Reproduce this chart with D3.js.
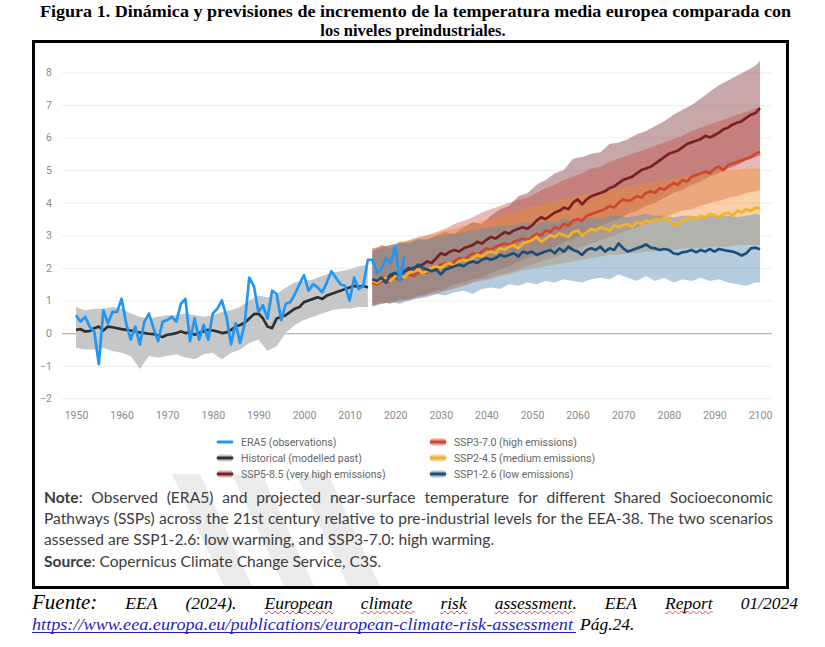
<!DOCTYPE html>
<html>
<head>
<meta charset="utf-8">
<script src="https://cdn.jsdelivr.net/npm/d3@7"></script>
<style>
  body { margin: 0; background: #fff; }
  svg { display: block; }
</style>
</head>
<body>
<div id="main"></div>
<script>
"use strict";

// ---- data ----
const era5Years = d3.range(1950, 2023);
const era5Values = [
  0.55, 0.35, 0.5, 0.2, 0.05, -0.95, 0.7, 0.3, 0.65, 0.65,
  1.05, 0.3, -0.2, 0.2, -0.35, 0.35, 0.6, 0.15, -0.25, 0.35,
  0.4, 0.5, 0.35, 0.9, 1.05, -0.25, 0.45, -0.2, 0.25, -0.2,
  0.6, 0.75, 1.0, 0.5, -0.35, 0.3, -0.3, 0.3, 1.7, 1.45,
  0.65, 0.85, 0.45, 1.3, 1.2, 0.4, 0.9, 0.95, 1.2, 1.5,
  1.78, 1.3, 1.5, 1.4, 1.25, 1.55, 1.9, 1.7, 1.5, 1.45,
  1.0, 1.7, 1.35, 1.45, 2.25, 2.25, 1.85, 1.95, 2.3, 2.15,
  2.65, 1.6, 2.35
];

const histYears = d3.range(1950, 2015);
const histValues = [
  0.1, 0.12, 0.05, 0.06, 0.15, 0.2, 0.08, 0.2, 0.18, 0.15,
  0.12, 0.1, 0.08, 0.05, 0.02, 0.0, -0.02, -0.03, -0.08, -0.12,
  -0.05, -0.03, 0.0, 0.05, 0.0, 0.02, -0.05, 0.0, 0.05, 0.1,
  0.08, 0.05, 0.0, 0.02, 0.1, 0.2, 0.25, 0.32, 0.45, 0.58,
  0.6, 0.45, 0.2, 0.15, 0.45, 0.5, 0.55, 0.65, 0.75, 0.8,
  0.95, 1.0, 1.05, 1.1, 1.05, 1.15, 1.2, 1.25, 1.3, 1.35,
  1.4, 1.45, 1.42, 1.45, 1.4
];
const histBandYears = d3.range(1950, 2015, 2);
const histBandHigh = [
  0.8, 0.7, 0.75, 0.75, 0.8, 0.75, 0.6, 0.5, 0.45, 0.5,
  0.55, 0.55, 0.6, 0.55, 0.5, 0.55, 0.65, 0.7, 0.8, 1.0,
  1.15, 1.1, 1.2, 1.4, 1.55, 1.6, 1.65, 1.75, 1.85, 1.9,
  1.95, 2.05, 2.1
];
const histBandLow = [
  -0.45, -0.5, -0.5, -0.45, -0.55, -0.6, -0.7, -1.1, -0.7, -0.75,
  -0.7, -0.65, -0.75, -0.8, -0.65, -0.6, -0.8, -0.6, -0.5, -0.3,
  -0.2, -0.55, -0.4, 0.0, 0.25, 0.4, 0.5, 0.6, 0.7, 0.75,
  0.75, 0.8, 0.8
];

const scenYears = d3.range(2015, 2101);
const ssp585Values = [
  1.6, 1.55, 1.65, 1.7, 1.75, 1.8, 1.75, 1.9, 1.95, 2.0,
  2.05, 2.1, 2.2, 2.15, 2.3, 2.45, 2.4, 2.5, 2.55, 2.5,
  2.6, 2.65, 2.7, 2.8, 2.75, 2.86, 2.95, 2.9, 3.0, 3.1,
  3.05, 3.15, 3.2, 3.25, 3.2, 3.3, 3.45, 3.55, 3.5, 3.6,
  3.7, 3.75, 3.85, 3.8, 4.0, 4.1, 3.95, 4.1, 4.2, 4.25,
  4.3, 4.35, 4.45, 4.5, 4.6, 4.7, 4.75, 4.8, 4.9, 5.0,
  5.05, 5.1, 5.2, 5.3, 5.4, 5.5, 5.55, 5.6, 5.7, 5.8,
  5.85, 5.9, 5.95, 6.05, 6.0, 6.07, 6.15, 6.25, 6.3, 6.4,
  6.45, 6.5, 6.6, 6.7, 6.75, 6.9
];
const ssp370Values = [
  1.55, 1.5, 1.6, 1.55, 1.65, 1.7, 1.6, 1.75, 1.8, 1.75,
  1.85, 1.9, 1.85, 2.0, 1.95, 2.1, 2.15, 2.05, 2.2, 2.3,
  2.25, 2.35, 2.45, 2.4, 2.5, 2.6, 2.55, 2.65, 2.7, 2.75,
  2.7, 2.8, 2.85, 2.9, 2.85, 2.95, 3.05, 3.0, 3.15, 3.1,
  3.25, 3.2, 3.35, 3.3, 3.45, 3.5, 3.45, 3.6, 3.65, 3.7,
  3.75, 3.8, 3.9, 3.85, 4.0, 4.1, 4.05, 4.1, 4.2, 4.15,
  4.3, 4.35, 4.3, 4.45, 4.4, 4.5, 4.6, 4.55, 4.7, 4.65,
  4.8, 4.85, 4.9, 4.95, 4.9, 5.05, 5.1, 5.0, 5.15, 5.2,
  5.25, 5.3, 5.35, 5.4, 5.5, 5.56
];
const ssp245Values = [
  1.6, 1.55, 1.65, 1.7, 1.6, 1.75, 1.8, 1.7, 1.85, 1.9,
  1.95, 1.85, 1.9, 2.0, 2.05, 2.0, 2.1, 2.15, 2.05, 2.2,
  2.25, 2.2, 2.3, 2.4, 2.35, 2.45, 2.5, 2.45, 2.6, 2.55,
  2.65, 2.7, 2.6, 2.75, 2.8, 2.85, 2.95, 2.8, 2.9, 3.0,
  2.95, 3.05, 3.0, 2.95, 3.1, 3.15, 3.0, 3.1, 3.2, 3.15,
  3.25, 3.2, 3.15, 3.3, 3.25, 3.3, 3.35, 3.25, 3.4, 3.35,
  3.45, 3.4, 3.5, 3.45, 3.55, 3.5, 3.3, 3.35, 3.45, 3.5,
  3.55, 3.5, 3.6, 3.55, 3.65, 3.62, 3.55, 3.65, 3.7, 3.6,
  3.75, 3.7, 3.8, 3.75, 3.85, 3.83
];
const ssp126Values = [
  1.65, 1.6, 1.7, 1.55, 1.8, 1.85, 1.75, 1.9, 2.0, 1.95,
  2.1, 2.0, 1.95, 1.9, 1.95, 1.8, 1.95, 2.0, 2.05, 2.1,
  2.05, 2.15, 2.2, 2.15, 2.25, 2.3, 2.25, 2.3, 2.4, 2.35,
  2.4, 2.45, 2.35, 2.5, 2.45, 2.5, 2.4, 2.45, 2.5, 2.55,
  2.45, 2.6, 2.5, 2.65, 2.55, 2.5, 2.4, 2.55, 2.6, 2.55,
  2.65, 2.5, 2.6, 2.55, 2.75, 2.6, 2.5, 2.55, 2.6, 2.65,
  2.72, 2.62, 2.6, 2.55, 2.58, 2.55, 2.45, 2.42, 2.48, 2.5,
  2.55, 2.48, 2.55, 2.5, 2.58, 2.5, 2.58, 2.55, 2.52, 2.5,
  2.45, 2.38, 2.45, 2.6, 2.62, 2.57
];

const bandYears = d3.range(2015, 2100, 2).concat([2100]);
const ssp585High = [
  2.5, 2.7, 2.6, 2.8, 2.75, 2.9, 2.85, 3.0, 3.1, 3.05,
  3.25, 3.4, 3.35, 3.6, 3.8, 3.9, 4.2, 4.3, 4.55, 4.7,
  4.9, 5.0, 5.35, 5.4, 5.5, 5.55, 5.8, 5.85, 5.95, 6.1,
  6.2, 6.35, 6.5, 6.7, 6.85, 7.0, 7.2, 7.4, 7.6, 7.75,
  7.9, 8.05, 8.2, 8.35
];
const ssp585Low = [
  0.85, 0.95, 0.9, 1.05, 1.0, 1.15, 1.2, 1.3, 1.35, 1.5,
  1.55, 1.65, 1.7, 1.85, 1.95, 2.05, 2.2, 2.3, 2.4, 2.55,
  2.65, 2.8, 2.9, 3.05, 3.15, 3.3, 3.4, 3.5, 3.65, 3.75,
  3.9, 4.0, 4.15, 4.3, 4.4, 4.55, 4.65, 4.8, 4.9, 5.05,
  5.15, 5.3, 5.4, 5.45
];
const ssp370High = [
  2.6, 2.65, 2.7, 2.75, 2.85, 2.95, 3.0, 3.1, 3.2, 3.35,
  3.45, 3.55, 3.7, 3.8, 3.9, 4.0, 4.1, 4.15, 4.3, 4.45,
  4.55, 4.7, 4.8, 4.9, 5.05, 5.1, 5.25, 5.35, 5.45, 5.55,
  5.65, 5.75, 5.85, 5.95, 6.05, 6.2, 6.3, 6.4, 6.5, 6.6,
  6.7, 6.8, 6.9, 6.95
];
const ssp370Low = [
  0.85, 0.9, 0.95, 0.95, 1.05, 1.1, 1.15, 1.2, 1.3, 1.35,
  1.45, 1.55, 1.65, 1.7, 1.8, 1.85, 1.95, 2.05, 2.15, 2.25,
  2.3, 2.45, 2.55, 2.65, 2.75, 2.85, 2.95, 3.05, 3.15, 3.25,
  3.35, 3.45, 3.55, 3.65, 3.75, 3.8, 3.9, 4.0, 4.05, 4.15,
  4.2, 4.3, 4.35, 4.4
];
const ssp245High = [
  2.6, 2.65, 2.7, 2.8, 2.85, 2.9, 3.0, 3.05, 3.15, 3.2,
  3.3, 3.35, 3.45, 3.5, 3.6, 3.7, 3.75, 3.85, 3.9, 4.0,
  4.05, 4.1, 4.2, 4.25, 4.3, 4.35, 4.4, 4.45, 4.5, 4.55,
  4.6, 4.65, 4.7, 4.75, 4.8, 4.85, 4.9, 4.9, 4.95, 5.0,
  5.0, 5.05, 5.05, 5.05
];
const ssp245Low = [
  0.85, 0.9, 0.95, 1.0, 1.05, 1.1, 1.2, 1.25, 1.3, 1.4,
  1.45, 1.55, 1.6, 1.65, 1.75, 1.8, 1.9, 1.95, 2.0, 2.05,
  2.1, 2.15, 2.2, 2.25, 2.3, 2.35, 2.4, 2.4, 2.45, 2.45,
  2.5, 2.5, 2.55, 2.55, 2.6, 2.6, 2.6, 2.65, 2.65, 2.65,
  2.7, 2.7, 2.7, 2.7
];
const ssp126High = [
  2.55, 2.6, 2.7, 2.75, 2.8, 2.85, 2.9, 2.95, 3.0, 3.05,
  3.1, 3.15, 3.2, 3.25, 3.3, 3.3, 3.35, 3.4, 3.35, 3.45,
  3.4, 3.5, 3.45, 3.5, 3.55, 3.5, 3.6, 3.6, 3.55, 3.6,
  3.65, 3.6, 3.6, 3.55, 3.6, 3.6, 3.55, 3.6, 3.6, 3.6,
  3.55, 3.6, 3.65, 3.62
];
const ssp126Low = [
  0.8, 0.9, 0.95, 0.9, 1.0, 1.05, 1.1, 1.2, 1.15, 1.25,
  1.3, 1.2, 1.35, 1.4, 1.35, 1.5, 1.45, 1.55, 1.5, 1.6,
  1.55, 1.65, 1.6, 1.55, 1.65, 1.7, 1.65, 1.8, 1.7, 1.6,
  1.75, 1.6, 1.7, 1.55, 1.65, 1.6, 1.7, 1.6, 1.65, 1.55,
  1.5, 1.45, 1.55, 1.55
];

const yTicks = [-2, -1, 0, 1, 2, 3, 4, 5, 6, 7, 8];
const xTicks = d3.range(1950, 2101, 10);

const legendLabels = [
  "ERA5 (observations)", "Historical (modelled past)", "SSP5-8.5 (very high emissions)",
  "SSP3-7.0 (high emissions)", "SSP2-4.5 (medium emissions)", "SSP1-2.6 (low emissions)"
];
const legendColors = ["#2196f3", "#2f2f2f", "#7a1f22", "#d2452e", "#f4b323", "#1d4e7a"];
const legendBands = [null, "#c6c7c9", "#d2b0b2", "#e2a39c", "#f8d3a6", "#aac4d8"];

// ---- page ----
function initialiseWebpage() {
  const main = document.getElementById("main");
  return d3.select(main).append("svg").attr("width", 825).attr("height", 647);
}

function zip(xs, ys) { return xs.map((t, i) => ({ t, v: ys[i] })); }
function zipBand(xs, lo, hi) { return xs.map((t, i) => ({ t, lo: lo[i], hi: hi[i] })); }

// place words spread evenly between x0 and x1 (justified text)
function justify(g, words, x0, x1, baseline) {
  const nodes = words.map(w => {
    const t = g.append("text").attr("y", baseline);
    w.parts.forEach(p => {
      const s = t.append("tspan").text(p.text);
      if (p.style) Object.entries(p.style).forEach(([k, v]) => s.style(k, v));
    });
    if (w.style) Object.entries(w.style).forEach(([k, v]) => t.style(k, v));
    return t;
  });
  const widths = nodes.map(n => n.node().getComputedTextLength());
  const gap = (x1 - x0 - d3.sum(widths)) / (nodes.length - 1);
  let x = x0;
  const pos = [];
  nodes.forEach((n, i) => { n.attr("x", x); pos.push([x, widths[i]]); x += widths[i] + gap; });
  return pos;
}

function draw(svg) {
  // title
  const title = svg.append("g")
    .style("font-family", "'Liberation Serif', 'Times New Roman', serif")
    .style("font-weight", "bold").style("font-size", "16.5px").attr("fill", "#000");
  title.append("text").attr("x", 40).attr("y", 16.5)
    .attr("textLength", 751).attr("lengthAdjust", "spacingAndGlyphs")
    .text("Figura 1. Dinámica y previsiones de incremento de la temperatura media europea comparada con");
  title.append("text").attr("x", 413).attr("y", 36).attr("text-anchor", "middle")
    .text("los niveles preindustriales.");

  // faint watermark stripes behind the note
  const wm = svg.append("g").attr("fill", "#ebebeb");
  [[172, 200], [232, 262], [296, 328]].forEach(([a, b]) => {
    wm.append("path").attr("d", `M${a},474L${b},474L${b + 52},586L${a + 52},586Z`);
  });

  const x = d3.scaleLinear().domain([1950, 2100]).range([76, 760]);
  const y = d3.scaleLinear().domain([-2, 8]).range([398.3, 72.3]);

  // grid + y labels
  const yAxis = svg.append("g").attr("transform", "translate(62,0)")
    .call(d3.axisLeft(y).tickValues(yTicks).tickSize(-710).tickPadding(10).tickFormat(d3.format("d")));
  yAxis.select(".domain").remove();
  yAxis.selectAll(".tick line").attr("stroke", d => d === 0 ? "#b4b4b4" : "#ededed")
    .attr("stroke-width", d => d === 0 ? 1.4 : 1);
  yAxis.selectAll(".tick text").attr("fill", "#8a8a8a")
    .style("font-family", "Roboto, sans-serif").style("font-size", "10.5px");

  const xAxis = svg.append("g").attr("transform", "translate(0,398.3)")
    .call(d3.axisBottom(x).tickValues(xTicks).tickSize(0).tickPadding(13).tickFormat(d3.format("d")));
  xAxis.select(".domain").remove();
  xAxis.selectAll(".tick text").attr("fill", "#8a8a8a")
    .style("font-family", "Roboto, sans-serif").style("font-size", "10.5px");

  const area = d3.area().x(d => x(d.t)).y0(d => y(d.lo)).y1(d => y(d.hi));
  const line = d3.line().x(d => x(d.t)).y(d => y(d.v));

  // historical band
  svg.append("path").datum(zipBand(histBandYears, histBandLow, histBandHigh))
    .attr("d", area).attr("fill", "#c6c7c9");

  // scenario bands
  const bands = [
    [ssp585Low, ssp585High, "#915057", 0.5],
    [ssp370Low, ssp370High, "#c0392b", 0.35],
    [ssp245Low, ssp245High, "#f0902e", 0.42],
    [ssp126Low, ssp126High, "#5b8db5", 0.45]
  ];
  bands.forEach(([lo, hi, c, o]) => {
    svg.append("path").datum(zipBand(bandYears, lo, hi))
      .attr("d", area).attr("fill", c).attr("fill-opacity", o);
  });

  const lines = [
    [histYears, histValues, legendColors[1]],
    [scenYears, ssp585Values, legendColors[2]],
    [scenYears, ssp370Values, legendColors[3]],
    [scenYears, ssp245Values, legendColors[4]],
    [scenYears, ssp126Values, legendColors[5]],
    [era5Years, era5Values, legendColors[0]]
  ];
  lines.forEach(([xs, vs, c]) => {
    svg.append("path").datum(zip(xs, vs)).attr("d", line)
      .attr("fill", "none").attr("stroke", c).attr("stroke-width", 2.7)
      .attr("stroke-linejoin", "round");
  });

  // legend
  const leg = svg.append("g").style("font-family", "Roboto, sans-serif").style("font-size", "10.5px");
  legendLabels.forEach((lab, i) => {
    const col = Math.floor(i / 3), row = i % 3;
    const x0 = col === 0 ? 217 : 430;
    const cy = 442 + row * 16;
    if (legendBands[i]) {
      leg.append("rect").attr("x", x0).attr("y", cy - 3.5).attr("width", 16).attr("height", 7)
        .attr("rx", 3).attr("fill", legendBands[i]);
    }
    leg.append("line").attr("x1", x0 + 1).attr("x2", x0 + 15).attr("y1", cy).attr("y2", cy)
      .attr("stroke", legendColors[i]).attr("stroke-width", 2.8).attr("stroke-linecap", "round");
    leg.append("text").attr("x", x0 + 24).attr("y", cy + 3.6).attr("fill", "#666").text(lab);
  });

  // note
  const note = svg.append("g").style("font-family", "Lato, 'Open Sans', sans-serif")
    .style("font-size", "15.6px").attr("fill", "#3c3c3c");
  const toWords = s => s.split(" ").map(w => ({ parts: [{ text: w }] }));
  const l1 = toWords("Observed (ERA5) and projected near-surface temperature for different Shared Socioeconomic");
  l1.unshift({ parts: [{ text: "Note", style: { "font-weight": "bold" } }, { text: ":" }] });
  justify(note, l1, 44, 773, 503);
  justify(note, toWords("Pathways (SSPs) across the 21st century relative to pre-industrial levels for the EEA-38. The two scenarios"), 44, 773, 524);
  note.append("text").attr("x", 44).attr("y", 545)
    .text("assessed are SSP1-2.6: low warming, and SSP3-7.0: high warming.");
  const src = note.append("text").attr("x", 44).attr("y", 567);
  src.append("tspan").style("font-weight", "bold").text("Source");
  src.append("tspan").text(": Copernicus Climate Change Service, C3S.");

  // frame
  svg.append("rect").attr("x", 33.5).attr("y", 41.5).attr("width", 754).attr("height", 546)
    .attr("fill", "none").attr("stroke", "#000").attr("stroke-width", 3);

  // footer
  const foot = svg.append("g").style("font-family", "'Liberation Serif', 'Times New Roman', serif")
    .style("font-style", "italic").style("font-size", "17.5px").attr("fill", "#000");
  const fw = ["Fuente:", "EEA", "(2024).", "European", "climate", "risk", "assessment.", "EEA", "Report", "01/2024"]
    .map((w, i) => ({ parts: [{ text: w }], style: i === 0 ? { "font-size": "21px" } : null }));
  const pos = justify(foot, fw, 32, 798, 609);
  const squiggle = [3, 4, 5, 6, 8];
  squiggle.forEach(i => {
    const [sx, w] = pos[i];
    const ww = i === 6 ? w - 5 : w;
    let d = `M${sx},612.5`;
    for (let k = 0; k * 3 < ww; k++) d += `l1.5,${k % 2 ? -1.5 : 1.5}l1.5,${k % 2 ? 1.5 : -1.5}`;
    foot.append("path").attr("d", d).attr("fill", "none").attr("stroke", "#e03030").attr("stroke-width", 0.9);
  });
  foot.append("text").attr("x", 32).attr("y", 630).attr("fill", "#1f1fbf")
    .attr("textLength", 541).attr("lengthAdjust", "spacingAndGlyphs")
    .text("https://www.eea.europa.eu/publications/european-climate-risk-assessment ");
  foot.append("line").attr("x1", 32).attr("x2", 576).attr("y1", 632.5).attr("y2", 632.5)
    .attr("stroke", "#1f1fbf").attr("stroke-width", 1);
  foot.append("text").attr("x", 580).attr("y", 630).text("Pág.24.");
}

function main() {
  if (document.querySelector("svg")) return;
  const svg = initialiseWebpage();
  draw(svg);
}

main();
</script>
</body>
</html>
